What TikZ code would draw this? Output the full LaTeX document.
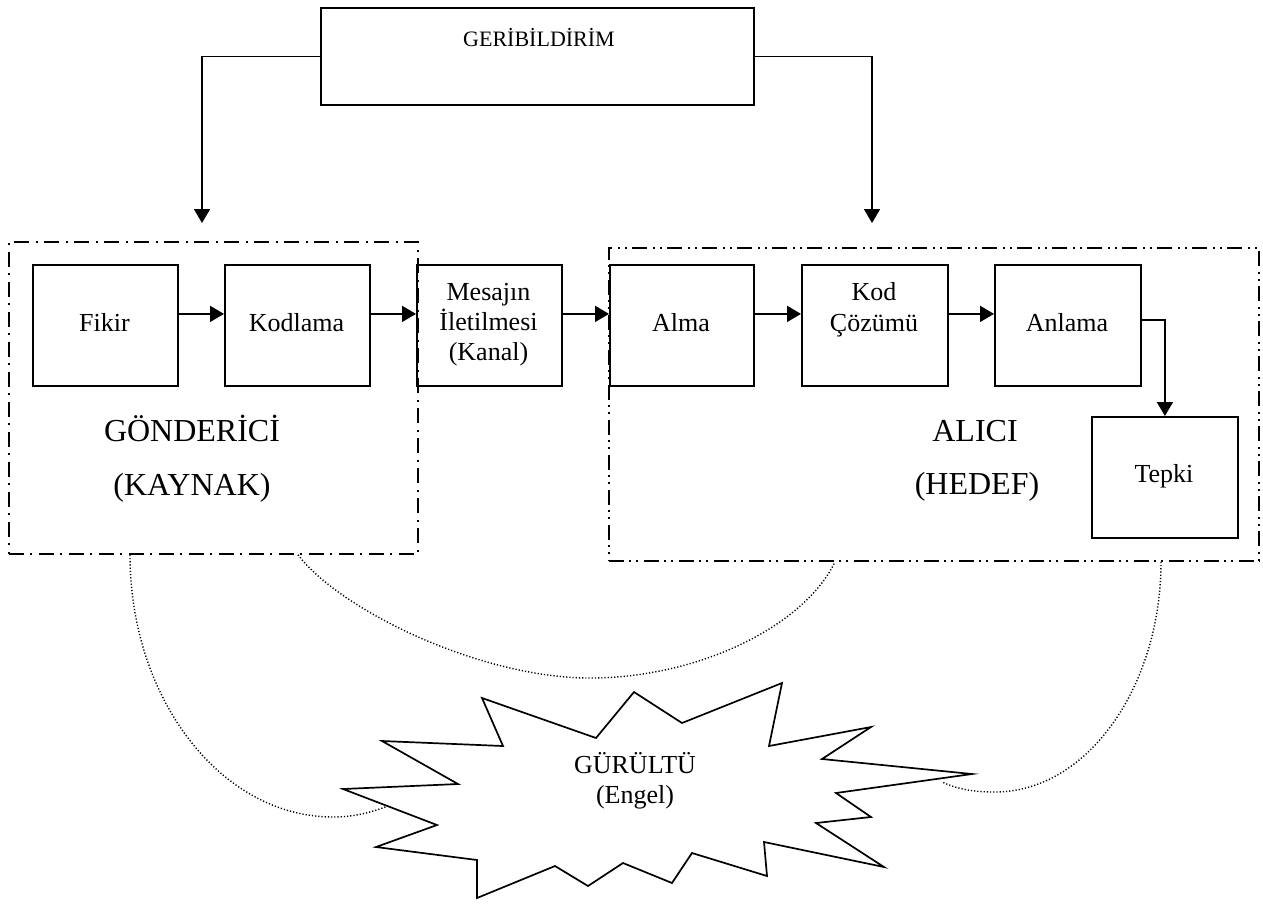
\documentclass[tikz,border=0pt]{standalone}
\usepackage{fontspec}
\setmainfont{Liberation Serif}
\usetikzlibrary{arrows.meta,calc}

\begin{document}
\begin{tikzpicture}[x=1pt,y=-1pt,
  box/.style={draw,line width=1.8pt,minimum width=145pt,minimum height=121pt,
    inner sep=0pt,anchor=north west},
  group/.style={draw,line width=1.8pt,inner sep=0pt,anchor=north west},
  grpA/.style={group,dash pattern=on 15pt off 6pt on 2pt off 7pt},
  grpB/.style={group,dash pattern=on 15pt off 5pt on 2pt off 5pt on 2pt off 6pt},
  conn/.style={line width=1.7pt,-{Triangle[length=14pt,width=16pt]}},
  plain/.style={line width=1.7pt},
  noise/.style={line width=1.4pt,dash pattern=on 1.2pt off 2pt},
  txt/.style={anchor=base,inner sep=0pt,font=\fontsize{26}{30}\selectfont},
  big/.style={anchor=base,inner sep=0pt,font=\fontsize{32}{36}\selectfont},
]
\useasboundingbox (0,0) rectangle (1263,903);

% feedback box and its two downward arrows
\node[box,minimum width=433pt,minimum height=97pt] (geri) at (320,7) {};
\node[anchor=base,inner sep=0pt,font=\fontsize{22}{26}\selectfont] (geritxt) at (539,46) {GERİBİLDİRİM};
\coordinate (fbL) at (202,223);
\coordinate (fbR) at (872,223);
\draw[conn] (geri.west) -| (fbL);
\draw[conn] (geri.east) -| (fbR);

% sender and receiver groups
\node[grpA,minimum width=409pt,minimum height=312pt] (gond) at (8,241) {};
\node[grpB,minimum width=650pt,minimum height=313pt] (alici) at (608,247) {};

% process boxes
\node[box] (fikir) at (32,264) {};
\node[box] (kodlama) at (224,264) {};
\node[box] (mesaj) at (416,264) {};
\node[box,minimum width=144pt] (alma) at (609,264) {};
\node[box,minimum width=146pt] (kodcoz) at (801,264) {};
\node[box,minimum width=146pt] (anlama) at (994,264) {};
\node[box,minimum width=146pt] (tepki) at (1091,416) {};

% box texts
\node[txt] (t1) at (104.5,331) {Fikir};
\node[txt] (t2) at (296.5,331) {Kodlama};
\node[txt] (t3a) at (488.5,300) {Mesajın};
\node[txt] (t3b) at (488.5,330) {İletilmesi};
\node[txt] (t3c) at (488.5,360) {(Kanal)};
\node[txt] (t4) at (681,331) {Alma};
\node[txt] (t5a) at (874,300) {Kod};
\node[txt] (t5b) at (874,331) {Çözümü};
\node[txt] (t6) at (1067,331) {Anlama};
\node[txt] (t7) at (1164,482) {Tepki};

% group labels
\node[big] (g1) at (192,441) {GÖNDERİCİ};
\node[big] (g2) at (192,495) {(KAYNAK)};
\node[big] (a1) at (975,441) {ALICI};
\node[big] (a2) at (977,494) {(HEDEF)};

% message flow
\draw[conn] ([yshift=11.5pt]fikir.east) -- ([yshift=11.5pt]kodlama.west);
\draw[conn] ([yshift=11.5pt]kodlama.east) -- ([yshift=11.5pt]mesaj.west);
\draw[conn] ([yshift=11.5pt]mesaj.east) -- ([yshift=11.5pt]alma.west);
\draw[conn] ([yshift=11.5pt]alma.east) -- ([yshift=11.5pt]kodcoz.west);
\draw[conn] ([yshift=11.5pt]kodcoz.east) -- ([yshift=11.5pt]anlama.west);
\draw[conn] ([yshift=5.5pt]anlama.east) -| (tepki.north);

% noise links
\coordinate (nA) at (388,806);
\coordinate (nC) at (942,782);
\draw[noise] (130,0 |- gond.south) .. controls (130,699) and (221,817) .. (333,817)
  .. controls (355,817) and (372,812) .. (nA);
\draw[noise] (298,0 |- gond.south) .. controls (340,610) and (480,678) .. (590,678)
  .. controls (700,678) and (805,625) .. (835,0 |- alici.south);
\draw[noise] (1161,0 |- alici.south) .. controls (1161,687) and (1087,792) .. (995,792)
  .. controls (970,792) and (955,788) .. (nC);

% noise burst
\draw[plain,fill=white,line join=miter] (482,698) -- (503,746) -- (382,741) -- (458,784) -- (343,789)
  -- (437,825) -- (376,847) -- (477,860) -- (477,898) -- (555,866) -- (588,886)
  -- (623,863) -- (672,883) -- (692,853) -- (767,876) -- (764,842) -- (884,867)
  -- (816,823) -- (871,817) -- (836,793) -- (972,774) -- (822,759) -- (871,727)
  -- (769,746) -- (782,683) -- (682,723) -- (634,692) -- (596,738) -- cycle;
\node[txt] (n1) at (635,773) {GÜRÜLTÜ};
\node[txt] (n2) at (635,803) {(Engel)};
\end{tikzpicture}
\end{document}
